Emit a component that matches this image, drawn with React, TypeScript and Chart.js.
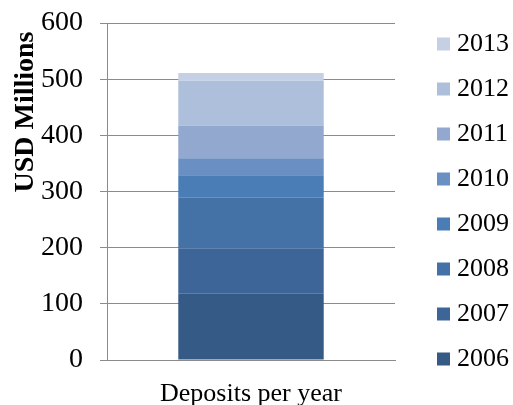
import { useEffect, useRef } from "react";
import { Chart, registerables } from "chart.js";

Chart.register(...registerables);

// Annual deposits, USD millions, stacked into one column
const categories = ["Deposits per year"];
const years = ["2006", "2007", "2008", "2009", "2010", "2011", "2012", "2013"];
const deposits = [118, 81, 90, 40, 30, 58, 80, 14];
const yearColors = [
  "#365a86",
  "#3d6597",
  "#4472a6",
  "#4a7db6",
  "#6a8fc2",
  "#92a8cf",
  "#adbfdb",
  "#c6d0e4",
];
const yMin = 0;
const yMax = 600;
const yStep = 100;
const yTitle = "USD Millions";

const SERIF = "'Liberation Serif', 'Times New Roman', serif";
const GRID = "#8c8c8c";

// Legend column on the right, newest year on top
const sideLegend = {
  id: "sideLegend",
  afterDraw(chart: any) {
    const { ctx, chartArea } = chart;
    const sets = chart.data.datasets.slice().reverse();
    const n = sets.length;
    const spacing = 45;
    const mid = chart.height / 2 - 1;
    const boxX = chartArea.right + 42;
    ctx.save();
    ctx.font = `26px ${SERIF}`;
    ctx.textAlign = "left";
    ctx.textBaseline = "middle";
    sets.forEach((ds: any, k: number) => {
      const cy = mid + (k - (n - 1) / 2) * spacing;
      ctx.fillStyle = ds.backgroundColor;
      ctx.fillRect(boxX, cy - 6.5, 13, 13);
      ctx.fillStyle = "#000";
      ctx.fillText(ds.label, boxX + 20, cy + 0.5);
    });
    ctx.restore();
  },
};

// Vertical axis title, set toward the top of the axis
const axisTitle = {
  id: "axisTitle",
  afterDraw(chart: any) {
    const { ctx, chartArea } = chart;
    ctx.save();
    ctx.translate(chartArea.left - 74.5, chartArea.top + 89);
    ctx.rotate(-Math.PI / 2);
    ctx.font = `bold 28px ${SERIF}`;
    ctx.fillStyle = "#000";
    ctx.textAlign = "center";
    ctx.textBaseline = "alphabetic";
    ctx.fillText(yTitle, 0, 0);
    ctx.restore();
  },
};

export default function App() {
  const canvasRef = useRef<HTMLCanvasElement | null>(null);

  useEffect(() => {
    const canvas = canvasRef.current;
    if (!canvas) return;
    const chart = new Chart(canvas, {
      type: "bar",
      data: {
        labels: categories,
        datasets: years.map((year, i) => ({
          label: year,
          data: [deposits[i]],
          backgroundColor: yearColors[i],
          borderWidth: 0,
          categoryPercentage: 1,
          barPercentage: 0.505,
        })),
      },
      options: {
        responsive: false,
        animation: false,
        layout: { padding: { left: 41, right: 118, top: 23, bottom: 0 } },
        plugins: {
          legend: { display: false },
          tooltip: { enabled: false },
        },
        scales: {
          x: {
            stacked: true,
            grid: { display: false, drawTicks: false },
            border: { display: true, color: GRID, width: 1 },
            ticks: {
              color: "#000",
              padding: 19,
              font: { family: SERIF, size: 26 },
            },
            afterFit(scale: any) {
              scale.height = 45;
              scale.paddingLeft = 0;
              scale.paddingRight = 0;
            },
          },
          y: {
            stacked: true,
            min: yMin,
            max: yMax,
            grid: {
              color: GRID,
              lineWidth: 1,
              drawTicks: true,
              tickLength: 7,
              tickColor: GRID,
            },
            border: { display: true, color: GRID, width: 1 },
            ticks: {
              stepSize: yStep,
              color: "#000",
              padding: 17,
              font: { family: SERIF, size: 28 },
            },
            afterFit(scale: any) {
              scale.width = 66;
              scale.paddingTop = 0;
              scale.paddingBottom = 0;
            },
          },
        },
      },
      plugins: [sideLegend, axisTitle],
    });
    return () => chart.destroy();
  }, []);

  return (
    <div style={{ position: "absolute", left: 0, top: 0, width: 513, height: 405, background: "#fff" }}>
      <canvas ref={canvasRef} width={513} height={405} style={{ display: "block" }} />
    </div>
  );
}
